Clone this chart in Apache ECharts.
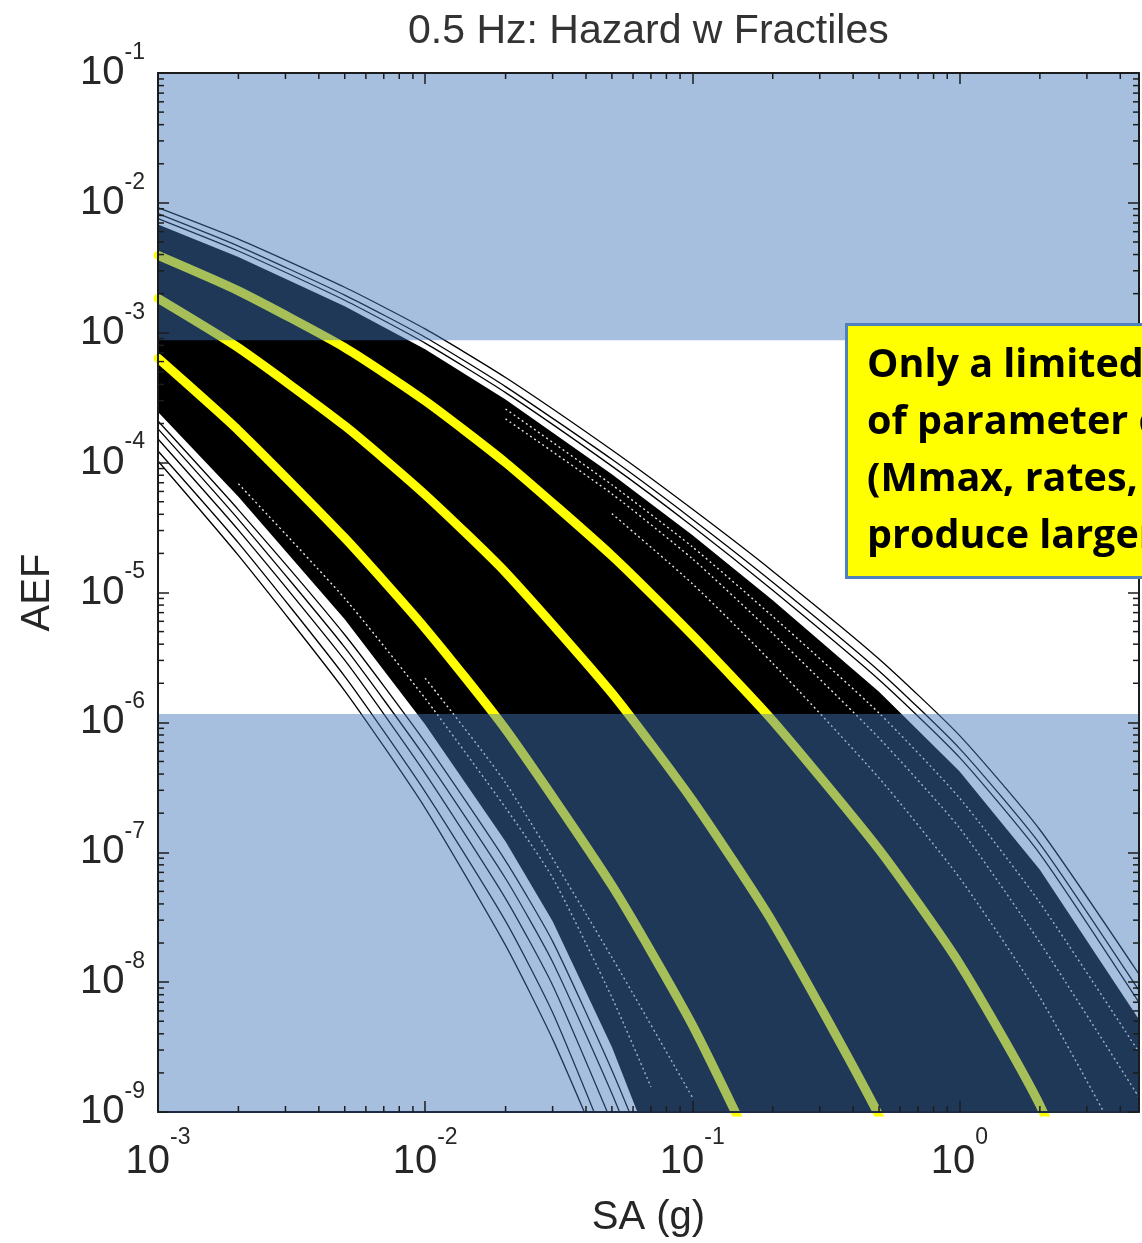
<!DOCTYPE html>
<html>
<head>
<meta charset="utf-8">
<script src="https://cdn.jsdelivr.net/npm/echarts@6/dist/echarts.min.js"></script>
<style>
html,body{margin:0;padding:0;background:#ffffff;}
#chart{width:1142px;height:1243px;}
</style>
</head>
<body>
<div id="chart"></div>
<script>
// ---------------- text ----------------
const titleText = '0.5 Hz: Hazard w Fractiles';
const xAxisName = 'SA (g)';
const yAxisName = 'AEF';
const noteLines = ['Only a limited', 'of parameter c', '(Mmax, rates,', 'produce larger'];

// ---------------- axes ----------------
const xRange = [0.001, 4.7];
const yRange = [1e-9, 1e-1];
const xDecades = [-3, -2, -1, 0];
const yDecades = [-9, -8, -7, -6, -5, -4, -3, -2];
const minorMultipliers = [2, 3, 4, 5, 6, 7, 8, 9];

// shaded AEF ranges (overlay bands: top AEF, bottom AEF)
const highlightBands = [[1e-1, 8.75e-4], [1.16e-6, 8e-10]];

// ---------------- hazard curves: [SA (g), AEF] ----------------
const fractileUpper = [[0.001,3.94e-3],[0.002,2.10e-3],[0.005,7.69e-4],[0.01,2.99e-4],[0.02,1.00e-4],[0.05,1.92e-5],[0.1,4.70e-6],[0.2,1.03e-6],[0.5,1.05e-7],[1,1.39e-8],[2,1.13e-9],[4.7,1.94e-11]];
const fractileMiddle = [[0.001,1.84e-3],[0.002,7.66e-4],[0.005,1.92e-4],[0.01,5.66e-5],[0.02,1.43e-5],[0.05,1.68e-6],[0.1,2.52e-7],[0.2,2.88e-8],[0.5,9.37e-10],[1,4.15e-11]];
const fractileLower = [[0.001,6.37e-4],[0.002,1.77e-4],[0.005,2.63e-5],[0.01,5.30e-6],[0.02,8.85e-7],[0.05,5.55e-8],[0.1,4.69e-9],[0.2,2.49e-10]];

// dense family of curves: upper and lower edge of the solid band
const bandUpperEdge = [[0.001,6.81e-3],[0.002,3.83e-3],[0.005,1.60e-3],[0.01,7.48e-4],[0.02,3.06e-4],[0.05,8.15e-5],[0.1,2.77e-5],[0.2,8.71e-6],[0.5,1.72e-6],[1,4.20e-7],[2,7.33e-8],[4.7,5.16e-9]];
const bandLowerEdge = [[0.001,2.45e-4],[0.002,5.46e-5],[0.005,6.21e-6],[0.01,9.64e-7],[0.02,1.21e-7],[0.03,2.94e-8],[0.05,3.17e-9],[0.065,8e-10],[4.7,8e-10]];

// gaps between neighbouring curves inside the band (white streaks)
const bandGap1 = [[0.02,2.17e-4],[0.05,5.75e-5],[0.1,1.82e-5],[0.2,4.84e-6],[0.5,7.57e-7],[1,1.54e-7],[2,2.02e-8],[4.7,1.30e-9]];
const bandGap2 = [[0.02,2.59e-4],[0.05,6.75e-5],[0.1,2.25e-5],[0.2,6.54e-6],[0.5,1.18e-6],[1,2.62e-7],[2,4.09e-8],[4.7,2.89e-9]];
const bandGap3 = [[0.05,4.05e-5],[0.1,1.17e-5],[0.2,2.85e-6],[0.5,3.73e-7],[1,6.37e-8],[2,7.64e-9],[4.7,3.17e-10]];
const bandGap4 = [[0.002,6.87e-5],[0.005,9.0e-6],[0.01,1.53e-6],[0.02,2.20e-7],[0.03,6.37e-8],[0.05,7.64e-9],[0.07,1.56e-9]];
const bandGap5 = [[0.01,2.19e-6],[0.02,3.42e-7],[0.05,1.55e-8],[0.1,1.30e-9]];

// individual outlying curves above the band
const highCurve1 = [[0.001,9.20e-3],[0.002,5.26e-3],[0.005,2.24e-3],[0.01,1.07e-3],[0.02,4.52e-4],[0.05,1.25e-4],[0.1,4.39e-5],[0.2,1.46e-5],[0.5,3.08e-6],[1,7.94e-7],[2,1.49e-7],[4.7,1.15e-8]];
const highCurve2 = [[0.001,8.26e-3],[0.002,4.65e-3],[0.005,1.95e-3],[0.01,9.24e-4],[0.02,3.85e-4],[0.05,1.06e-4],[0.1,3.67e-5],[0.2,1.20e-5],[0.5,2.49e-6],[1,6.31e-7],[2,1.16e-7],[4.7,8.63e-9]];
const highCurve3 = [[0.001,7.57e-3],[0.002,4.26e-3],[0.005,1.78e-3],[0.01,8.32e-4],[0.02,3.46e-4],[0.05,9.40e-5],[0.1,3.24e-5],[0.2,1.04e-5],[0.5,2.13e-6],[1,5.38e-7],[2,9.73e-8],[4.7,6.98e-9]];

// individual outlying curves below the band
const lowCurve1 = [[0.001,1.03e-4],[0.002,1.93e-5],[0.005,1.75e-6],[0.01,2.19e-7],[0.02,1.92e-8],[0.03,3.64e-9],[0.05,3.18e-10]];
const lowCurve2 = [[0.001,1.23e-4],[0.002,2.41e-5],[0.005,2.26e-6],[0.01,2.92e-7],[0.02,2.95e-8],[0.03,5.83e-9],[0.05,4.58e-10]];
const lowCurve3 = [[0.001,1.52e-4],[0.002,3.02e-5],[0.005,3.01e-6],[0.01,4.05e-7],[0.02,4.40e-8],[0.03,9.46e-9],[0.05,8.24e-10]];
const lowCurve4 = [[0.001,1.82e-4],[0.002,3.66e-5],[0.005,3.78e-6],[0.01,5.38e-7],[0.02,6.28e-8],[0.03,1.43e-8],[0.05,1.39e-9],[0.07,2.49e-10]];
const lowCurve5 = [[0.001,2.09e-4],[0.002,4.33e-5],[0.005,4.73e-6],[0.01,7.05e-7],[0.02,8.59e-8],[0.03,2.06e-8],[0.05,2.10e-9],[0.07,3.92e-10]];

// ---------------- styling ----------------
const FONT = '"Liberation Sans", Arial, Helvetica, sans-serif';
const TXT = '#262626';
const YELLOW = '#ffff00';
const OVERLAY = 'rgba(66,118,186,0.47)';
const FRAME = '#1c1c1c';

const xMinor = [];
xDecades.forEach(e => minorMultipliers.forEach(m => { const v = m * Math.pow(10, e); if (v < xRange[1]) xMinor.push([v, yRange[0]]); }));
const yMinor = [];
yDecades.forEach(e => minorMultipliers.forEach(m => { yMinor.push([xRange[0], m * Math.pow(10, e)]); }));

function powLabel(v) {
  const e = Math.log10(v);
  const r = Math.round(e);
  if (Math.abs(e - r) > 1e-6) return '';
  return '{b|10}{s|' + r + '}';
}

function richStyle(lh) {
  return {
    b: { fontSize: 40, fontFamily: FONT, color: TXT, lineHeight: lh },
    s: { fontSize: 23, fontFamily: FONT, color: TXT, lineHeight: 24, verticalAlign: 'top' }
  };
}

function curve(data, color, width, z, extra) {
  return Object.assign({
    type: 'line', data: data, xAxisIndex: 0, yAxisIndex: 0,
    showSymbol: false, symbol: 'none', smooth: 0.2, clip: true, silent: true,
    lineStyle: { color: color, width: width, cap: 'round', join: 'round' },
    z: z, animation: false
  }, extra || {});
}

function gap(data) {
  return curve(data, '#ffffff', 1, 3, {
    lineStyle: { color: '#ffffff', width: 1.4, type: [2, 3], opacity: 0.9 }
  });
}

const axisLineStyle = { color: FRAME, width: 2 };
const tickStyle = { color: FRAME, width: 1.5 };

const option = {
  animation: false,
  backgroundColor: '#ffffff',
  title: {
    text: titleText, left: 408, top: 11, padding: 0,
    textStyle: { fontSize: 41, fontWeight: 'normal', fontFamily: FONT, color: '#333333' }
  },
  grid: { left: 158, top: 73, width: 990, height: 1042, containLabel: false },
  xAxis: [
    {
      type: 'log', logBase: 10, min: xRange[0], max: xRange[1], position: 'bottom', z: 10,
      name: xAxisName, nameLocation: 'middle', nameGap: 86,
      nameTextStyle: { fontSize: 40, fontFamily: FONT, color: TXT },
      axisLine: { show: true, onZero: false, lineStyle: { color: '#1d2c44', width: 2 } },
      axisTick: { show: true, inside: true, length: 11, lineStyle: tickStyle },
      axisLabel: { margin: 14, formatter: powLabel, rich: richStyle(72) },
      splitLine: { show: false }
    },
    {
      type: 'log', logBase: 10, min: xRange[0], max: xRange[1], position: 'top', z: 10,
      axisLine: { show: true, onZero: false, lineStyle: axisLineStyle },
      axisTick: { show: true, inside: true, length: 11, lineStyle: tickStyle },
      axisLabel: { show: false }, splitLine: { show: false }
    }
  ],
  yAxis: [
    {
      type: 'log', logBase: 10, min: yRange[0], max: yRange[1], position: 'left', z: 10,
      name: yAxisName, nameLocation: 'middle', nameGap: 100, nameRotate: 90,
      nameTextStyle: { fontSize: 40, fontFamily: FONT, color: TXT },
      axisLine: { show: true, onZero: false, lineStyle: axisLineStyle },
      axisTick: { show: true, inside: true, length: 11, lineStyle: tickStyle },
      axisLabel: { margin: 13, formatter: powLabel, rich: richStyle(64) },
      splitLine: { show: false }
    },
    {
      type: 'log', logBase: 10, min: yRange[0], max: yRange[1], position: 'right', z: 10,
      axisLine: { show: true, onZero: false, lineStyle: axisLineStyle },
      axisTick: { show: true, inside: true, length: 11, lineStyle: tickStyle },
      axisLabel: { show: false }, splitLine: { show: false }
    }
  ],
  series: [
    // solid band formed by the many hazard curves
    {
      type: 'custom', coordinateSystem: 'cartesian2d', xAxisIndex: 0, yAxisIndex: 0,
      data: [bandUpperEdge[0]], clip: true, silent: true, z: 2,
      renderItem: function (params, api) {
        const pts = bandUpperEdge.concat(bandLowerEdge.slice().reverse()).map(p => api.coord(p));
        return { type: 'polygon', shape: { points: pts }, style: { fill: '#000000' } };
      }
    },
    gap(bandGap1), gap(bandGap2), gap(bandGap3), gap(bandGap4), gap(bandGap5),
    curve(highCurve1, '#000000', 1.3, 3),
    curve(highCurve2, '#000000', 1.3, 3),
    curve(highCurve3, '#000000', 1.3, 3),
    curve(lowCurve1, '#000000', 1.3, 3),
    curve(lowCurve2, '#000000', 1.3, 3),
    curve(lowCurve3, '#000000', 1.3, 3),
    curve(lowCurve4, '#000000', 1.3, 3),
    curve(lowCurve5, '#000000', 1.3, 3),
    curve(fractileUpper, YELLOW, 9, 4),
    curve(fractileMiddle, YELLOW, 9, 4),
    curve(fractileLower, YELLOW, 9, 4),
    // translucent blue overlay bands
    {
      type: 'custom', coordinateSystem: 'cartesian2d', xAxisIndex: 0, yAxisIndex: 0,
      data: highlightBands.map(b => [xRange[0], b[0], b[1]]), clip: true, silent: true, z: 6,
      renderItem: function (params, api) {
        const cs = params.coordSys;
        const p1 = api.coord([api.value(0), api.value(1)]);
        const p2 = api.coord([api.value(0), api.value(2)]);
        return { type: 'rect', shape: { x: cs.x, y: p1[1], width: cs.width, height: p2[1] - p1[1] }, style: { fill: OVERLAY } };
      }
    },
    // minor ticks (x): bottom and top
    {
      type: 'custom', coordinateSystem: 'cartesian2d', xAxisIndex: 0, yAxisIndex: 0,
      data: xMinor, silent: true, z: 11,
      renderItem: function (params, api) {
        const cs = params.coordSys;
        const p = api.coord([api.value(0), api.value(1)]);
        return { type: 'group', children: [
          { type: 'line', shape: { x1: p[0], y1: cs.y + cs.height, x2: p[0], y2: cs.y + cs.height - 6 }, style: { stroke: FRAME, lineWidth: 1.5 } },
          { type: 'line', shape: { x1: p[0], y1: cs.y, x2: p[0], y2: cs.y + 6 }, style: { stroke: FRAME, lineWidth: 1.5 } }
        ] };
      }
    },
    // minor ticks (y): left and right
    {
      type: 'custom', coordinateSystem: 'cartesian2d', xAxisIndex: 0, yAxisIndex: 0,
      data: yMinor, silent: true, z: 11,
      renderItem: function (params, api) {
        const cs = params.coordSys;
        const p = api.coord([api.value(0), api.value(1)]);
        return { type: 'group', children: [
          { type: 'line', shape: { x1: cs.x, y1: p[1], x2: cs.x + 6, y2: p[1] }, style: { stroke: FRAME, lineWidth: 1.5 } },
          { type: 'line', shape: { x1: cs.x + cs.width, y1: p[1], x2: cs.x + cs.width - 6, y2: p[1] }, style: { stroke: FRAME, lineWidth: 1.5 } }
        ] };
      }
    }
  ],
  graphic: [
    {
      type: 'rect', z: 100, left: 845, top: 323,
      shape: { x: 0, y: 0, width: 330, height: 253 },
      style: { fill: '#ffff00', stroke: '#4f81bd', lineWidth: 3 }
    },
    {
      type: 'text', z: 101, left: 867, top: 337,
      style: {
        text: noteLines.join('\n'), fill: '#000000',
        font: 'bold 39.5px "Open Sans", "Noto Sans", sans-serif', lineHeight: 57
      }
    }
  ]
};

const chart = echarts.init(document.getElementById('chart'), null, { renderer: 'canvas', width: 1142, height: 1243 });
chart.setOption(option);
</script>
</body>
</html>
